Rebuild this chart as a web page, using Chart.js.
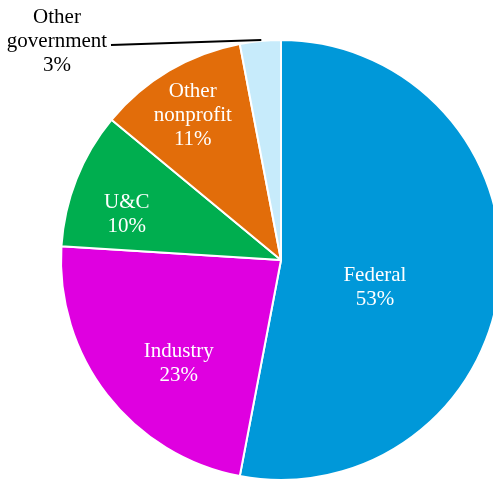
<!DOCTYPE html>
<html>
<head>
<meta charset="utf-8">
<script src="https://cdn.jsdelivr.net/npm/chart.js@4"></script>
<style>
  html, body { margin: 0; padding: 0; background: #fff; overflow: hidden; }
  #wrap { position: relative; width: 562px; height: 481px; }
</style>
</head>
<body>
<div id="wrap"><canvas id="pie"></canvas></div>
<script>
const categorias = ['Federal', 'Industry', 'U&C', 'Other nonprofit', 'Other government'];
const porcentajes = [53, 23, 10, 11, 3];
const colores = ['#0098d9', '#df00e0', '#00ae4f', '#e26d0a', '#c7ebfb'];

// how each label is written (line breaks) and where it sits: [radius fraction, angle shift in degrees]
const textos = [['Federal'], ['Industry'], ['U&C'], ['Other', 'nonprofit'], ['Other', 'government']];
const anclas = [[0.445, 11], [0.66, -7.5], [0.73, -5.3], [0.77, -0.8], null];

const etiquetas = {
    id: 'etiquetas',
    afterDatasetsDraw(chart) {
        const ctx = chart.ctx;
        const arcs = chart.getDatasetMeta(0).data;
        ctx.save();
        ctx.font = '21px "Liberation Serif", "Times New Roman", serif';
        ctx.textAlign = 'center';
        ctx.textBaseline = 'middle';
        const lh = 24;
        arcs.forEach((arc, i) => {
            const lineas = [...textos[i], porcentajes[i] + '%'];
            const mid = (arc.startAngle + arc.endAngle) / 2;
            if (anclas[i]) {
                const a = mid + anclas[i][1] * Math.PI / 180;
                const r = arc.outerRadius * anclas[i][0];
                const cx = arc.x + Math.cos(a) * r;
                const cy = arc.y + Math.sin(a) * r;
                ctx.fillStyle = '#fff';
                lineas.forEach((t, k) => ctx.fillText(t, cx, cy + (k - (lineas.length - 1) / 2) * lh));
            } else {
                // outside label with leader line
                const ex = arc.x + Math.cos(mid) * arc.outerRadius;
                const ey = arc.y + Math.sin(mid) * arc.outerRadius;
                const cx = 57, cy = 41;
                ctx.fillStyle = '#000';
                lineas.forEach((t, k) => ctx.fillText(t, cx, cy + (k - (lineas.length - 1) / 2) * lh));
                ctx.strokeStyle = '#000';
                ctx.lineWidth = 2;
                ctx.beginPath();
                ctx.moveTo(111, 45);
                ctx.lineTo(ex + 1, ey - 1);
                ctx.stroke();
            }
        });
        ctx.restore();
    }
};

new Chart(document.getElementById('pie'), {
    type: 'pie',
    data: {
        labels: categorias,
        datasets: [{ data: porcentajes, backgroundColor: colores, borderColor: '#fff', borderWidth: 2 }]
    },
    options: {
        responsive: true,
        maintainAspectRatio: false,
        animation: false,
        events: [],
        layout: { padding: { top: 39, bottom: 0, left: 0, right: 0 } },
        plugins: { legend: { display: false }, tooltip: { enabled: false }, title: { display: false } }
    },
    plugins: [etiquetas]
});
</script>
</body>
</html>
